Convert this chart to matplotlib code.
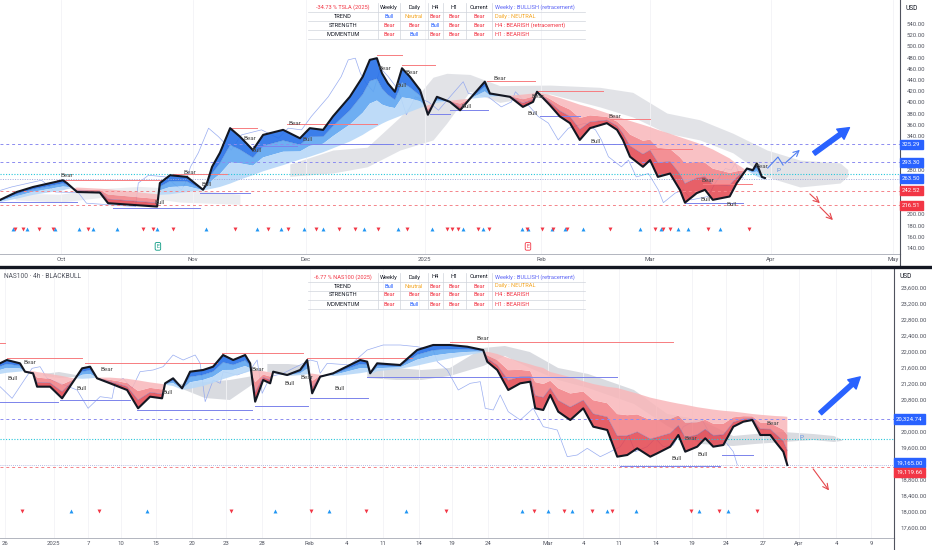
import numpy as np
import matplotlib
matplotlib.use('Agg')
import matplotlib.pyplot as plt
import matplotlib.transforms as mtrans
from matplotlib.lines import Line2D

plt.rcParams['font.family'] = ['Roboto', 'DejaVu Sans']

# ---------------- TSLA (top), x = days from Oct 1 2024 (bar scale) ----------------
tsla_t = [-15.5, -11.3, -7.1, 0.5, 1.5, 4.1, 9.9, 12.0, 24.5, 25.2, 27.8, 32.1, 36.2, 37.2,
          38.5, 40.5, 43.1, 45.6, 48.9, 51.5, 56.6, 60.9, 63.4, 66.8, 69.3, 73.6, 76.9, 78.7,
          80.5, 81.8, 83.3, 85.1, 86.9, 88.9, 91.5, 93.5, 95.8, 99.1, 101.7, 105.0, 108.0,
          109.3, 114.4, 117.7, 120.3, 121.3, 124.6, 127.1, 129.7, 132.2, 134.8, 139.1, 141.7,
          143.2, 145.0, 148.3, 150.1, 152.1, 155.2, 157.7, 159.0, 162.0, 164.1, 166.1, 170.4,
          172.2, 174.8, 176.3, 177.3, 178.6, 179.4]
tsla_close = [226, 240, 249, 261, 256, 240, 239, 220, 214, 256, 270, 267, 244, 256, 285, 310,
              354, 339, 315, 342, 351, 336, 354, 351, 375, 410, 446, 476, 479, 452, 434, 419,
              461, 446, 422, 378, 410, 401, 386, 413, 437, 416, 410, 392, 401, 419, 395, 375,
              363, 333, 354, 363, 351, 333, 303, 285, 297, 267, 273, 244, 221, 238, 244, 226,
              232, 256, 282, 279, 291, 267, 265]
tsla_slow = [222, 228, 235, 243, 245, 248, 246, 245, 236, 235, 236, 240, 243, 244, 246, 249,
             255, 262, 270, 277, 288, 298, 303, 311, 318, 330, 342, 350, 357, 362, 367, 372,
             377, 383, 390, 395, 399, 403, 405, 407, 409, 410, 412, 414, 416, 418, 413, 408,
             402, 396, 391, 381, 375, 371, 367, 360, 356, 351, 344, 338, 335, 328, 322, 316,
             300, 290, 278, 272, 268, 264, 262]

tsla_cloud1_t = [-11.7, -0.3, 9.9, 20.1, 30.3, 45.6]
tsla_cloud1_hi = [238, 236, 246, 250, 246, 236]
tsla_cloud1_lo = [226, 222, 230, 232, 222, 218]
tsla_cloud2_t = [58.3, 69.3, 78.0, 86.4, 94.8, 98.3, 104.2, 111.8, 124.6, 137.3, 145.7,
                 154.4, 162.8, 171.2, 179.9, 188.3, 198.5, 200.5]
tsla_cloud2_hi = [290, 315, 320, 374, 445, 452, 450, 430, 431, 427, 418, 381, 369, 345, 315,
                  297, 292, 280]
tsla_cloud2_lo = [268, 274, 285, 315, 333, 363, 420, 400, 415, 392, 374, 345, 333, 310, 267,
                  249, 256, 268]

tsla_bear_t = [1.5, 32.9, 48.2, 59.6, 82.5, 89.4, 111.8, 121.5, 141.1, 164.8, 178.6]
tsla_bear_p = [270, 274, 336, 363, 461, 454, 442, 410, 374, 260, 285]
tsla_bull_t = [25.2, 37.2, 49.9, 62.9, 86.9, 103.4, 120.3, 136.3, 164.3, 171.0]
tsla_bull_p = [222, 254, 315, 333, 431, 392, 381, 331, 226, 217]
tsla_res = [(-1.0, 26.0, 262), (28.5, 42.3, 273), (43.1, 49.9, 354), (57.6, 80.5, 361),
            (80.5, 86.9, 484), (86.9, 95.3, 466), (108.5, 120.8, 438), (121.3, 138.1, 420),
            (139.9, 150.1, 370), (150.1, 160.8, 317), (163.6, 176.0, 255)]
tsla_sup = [(-15.5, 4.1, 223), (13.2, 35.4, 212), (35.4, 48.2, 238), (48.9, 60.1, 322),
            (60.9, 84.6, 326), (94.0, 99.1, 380), (99.1, 108.8, 386), (122.0, 132.2, 376),
            (132.2, 151.3, 325), (159.0, 173.8, 220)]
tsla_up_sig = [-12.2, -8.7, -1.5, 4.6, 8.2, 14.3, 24.5, 36.9, 49.9, 56.1, 61.9, 66.8, 77.2,
               85.9, 94.5, 102.4, 107.5, 117.5, 119.0, 125.1, 128.4, 133.0, 147.5, 152.9,
               157.2, 159.7, 167.9]
tsla_dn_sig = [-11.7, -9.7, -5.6, -2.0, 6.9, 20.9, 23.4, 28.5, 44.3, 52.7, 57.8, 65.0, 70.8,
               74.9, 80.8, 88.2, 98.3, 99.6, 101.1, 106.2, 109.0, 118.7, 122.5, 125.4, 129.0,
               139.9, 151.4, 153.4, 155.2, 164.8, 175.3]
tsla_levels = [325.29, 293.30, 263.50, 242.52, 216.51]
tsla_level_cols = ['#2962ff', '#2962ff', '#2962ff', '#f23645', '#f23645']
tsla_cyan = 272.5
tsla_ticks_pos = [0, 33.6, 62.4, 92.7, 122.3, 150.1, 180.9, 212.0]
tsla_ticks_lab = ['Oct', 'Nov', 'Dec', '2025', 'Feb', 'Mar', 'Apr', 'May']
tsla_zigzag_t = [180.1, 182.7, 184.0, 188.8]
tsla_zigzag_p = [282.9, 302.5, 288.2, 318.6]

# ---------------- NAS100 (bottom), x = days from Dec 26 2024 (bar scale) ----------------
nas_t = [-0.58, 0.23, 1.82, 2.42, 3.39, 3.87, 5.43, 6.87, 8.07, 9.27, 10.23, 11.07, 12.63,
         14.67, 15.99, 17.43, 18.87, 19.23, 20.19, 21.27, 22.23, 23.79, 24.99, 26.19, 27.40,
         28.84, 29.44, 30.04, 31.00, 31.84, 32.20, 33.88, 35.44, 36.28, 36.88, 37.84, 39.40,
         40.60, 42.64, 43.48, 43.84, 44.68, 47.44, 49.48, 51.40, 53.44, 55.48, 57.40, 57.89,
         59.09, 60.41, 61.85, 63.05, 63.65, 64.61, 65.45, 66.41, 67.85, 69.41, 70.61, 72.29,
         73.49, 74.69, 75.89, 77.45, 78.29, 79.85, 80.82, 81.65, 83.09, 84.05, 85.01, 86.22,
         87.42, 88.62, 89.70, 90.66, 91.86, 92.46, 93.42, 93.90]
nas_close = [21717, 21800, 21717, 21508, 21467, 21133, 21133, 20842, 21217, 21592,
             21633, 21342, 21217, 21050, 20592, 20883, 20842, 21217, 21342, 21092,
             21508, 21550, 21633, 21925, 21800, 21925, 21717, 20758, 21300, 21217,
             21508, 21425, 21550, 21800, 20967, 21383, 21467, 21592, 21800, 21758,
             21467, 21717, 21675, 22050, 22175, 22175, 22133, 22050,
             21758, 21550, 21050, 21217, 21258, 20592, 20550, 20925, 20508, 20300,
             20592, 20133, 20050, 19383, 19425, 19592, 19383, 19467, 19633, 19925,
             19508, 19633, 19842, 19633, 19675, 20133, 20258, 20300, 19925, 19925,
             19758, 19508, 19175]
nas_slow = [21450, 21480, 21510, 21530, 21520, 21500, 21450, 21400, 21350, 21330,
            21340, 21360, 21360, 21330, 21290, 21240, 21200, 21180, 21150, 21060,
            21080, 21150, 21230, 21320, 21400, 21480, 21520, 21540, 21520, 21490,
            21470, 21410, 21420, 21450, 21460, 21430, 21400, 21420, 21470, 21500,
            21440, 21520, 21580, 21660, 21750, 21840, 21920, 21990,
            22010, 21950, 21850, 21760, 21690, 21650, 21600, 21500, 21450, 21370,
            21270, 21200, 21130, 21100, 21030, 20960, 20860, 20820, 20750, 20710,
            20680, 20620, 20590, 20560, 20530, 20510, 20480, 20450, 20430, 20410,
            20400, 20390, 20380]
nan = float('nan')
nas_cloud_t = [4.6, 6.5, 8.7, nan, 21.0, 24.0, 27.0, 29.8, nan, 31.5, 34.0, 36.6, nan,
               43.5, 47.0, 50.0, 53.4, 57.4, 60.0, 63.0, 66.4, 70.0, 75.5, 79.5, 83.5, 87.4,
               90.0, 93.4, 97.0, 99.5, 100.5]
nas_cloud_hi = [21450, 21500, 21420, nan, 21200, 21250, 21300, 21400, nan, 21700, 21700,
                21650, nan, 21550, 21600, 21550, 21600, 22100, 22150, 22000, 21600, 21450,
                21050, 20450, 20300, 19900, 19950, 20000, 19950, 19900, 19800]
nas_cloud_lo = [21400, 21350, 21380, nan, 21100, 20850, 20800, 21200, nan, 21500, 21400,
                21450, nan, 21350, 21300, 21300, 21400, 21650, 21900, 21600, 21300, 21100,
                20700, 20150, 19700, 19650, 19700, 19750, 19800, 19750, 19780]
nas_bear_t = [3.0, 12.3, 30.4, 36.3, 57.4, 82.3, 92.2]
nas_bear_p = [21750, 21575, 21575, 21375, 22350, 19850, 20225]
nas_bull_t = [1.0, 9.2, 19.6, 34.2, 40.2, 80.6, 83.7]
nas_bull_p = [21350, 21100, 20983, 21225, 21100, 19350, 19450]
nas_res = [(-0.58, 0.02, 22225), (0.26, 9.27, 21858), (9.63, 25.47, 21733),
           (26.07, 35.80, 21975), (36.28, 48.88, 21858), (53.44, 80.22, 22258)]
nas_sup = [(-0.58, 6.39, 20750), (6.63, 15.03, 20800), (15.87, 29.68, 20550),
           (30.04, 36.40, 20650), (36.64, 43.60, 20858), (43.48, 73.49, 21375),
           (73.85, 85.86, 19150), (86.10, 89.82, 19425)]
nas_up_sig = [7.9, 17.0, 32.4, 38.9, 48.2, 62.1, 65.2, 68.1, 72.2, 75.8, 83.3, 86.8]
nas_dn_sig = [2.1, 11.3, 27.1, 36.7, 43.4, 53.0, 63.5, 67.1, 70.5, 72.9, 82.3, 85.7, 90.3]
nas_ticks_pos = [0, 5.85, 10.0, 13.95, 18.15, 22.5, 26.55, 30.9, 36.6, 41.0, 45.4, 49.7,
                 53.7, 57.95, 65.2, 69.4, 73.7, 78.1, 82.4, 86.6, 91.0, 95.3, 99.8, 104.0]
nas_ticks_lab = ['26', '2025', '7', '10', '15', '20', '23', '28', 'Feb', '4', '11', '14',
                 '19', '24', 'Mar', '4', '11', '14', '19', '24', '27', 'Apr', '4', '9']
nas_levels = [20324.74, 19165.00, 19119.66]

tsla_table = [['Bull', 'Neutral', 'Bear', 'Bear', 'Bear'],
              ['Bear', 'Bear', 'Bull', 'Bear', 'Bear'],
              ['Bear', 'Bull', 'Bear', 'Bear', 'Bear']]
tsla_status = ['Weekly : BULLISH (retracement)', 'Daily : NEUTRAL',
               'H4 : BEARISH (retracement)', 'H1 : BEARISH']
nas_table = [['Bull', 'Neutral', 'Bear', 'Bear', 'Bear'],
             ['Bear', 'Bear', 'Bear', 'Bear', 'Bear'],
             ['Bear', 'Bull', 'Bear', 'Bear', 'Bear']]
nas_status = ['Weekly : BULLISH (retracement)', 'Daily : NEUTRAL', 'H4 : BEARISH', 'H1 : BEARISH']

W, H = 932, 550
BLUE = '#2962ff'
RED = '#f23645'
ORANGE = '#f5a623'
TXT = '#50535e'


def fx(x):
    return x / W


def fy(y):
    return 1 - y / H


fig = plt.figure(figsize=(W / 100, H / 100), dpi=100)
ax1 = fig.add_axes([0, fy(254), 900 / W, 254 / H])
ax2 = fig.add_axes([0, fy(538), 894 / W, (538 - 269) / H])


def ribbon(ax, t, price, slow):
    t = np.array(t, float)
    price = np.array(price, float)
    slow = np.array(slow, float)
    up = price >= slow
    levels = [price + (slow - price) * k for k in (0, 0.3, 0.62, 1.0)]
    blues = ['#2670e8', '#5ea5f1', '#b7d8f8']
    reds = ['#e3444e', '#f17d83', '#f8b7ba']
    for i in range(3):
        ax.fill_between(t, levels[i], levels[i + 1], where=up, interpolate=True,
                        color=blues[i], alpha=0.9, lw=0, zorder=2)
        ax.fill_between(t, levels[i], levels[i + 1], where=~up, interpolate=True,
                        color=reds[i], alpha=0.85, lw=0, zorder=2)
    ax.plot(t, levels[1], color='#1a4fb8', lw=0.4, alpha=0.4, zorder=3)
    ax.plot(t, price, color='#131722', lw=1.5, zorder=5)


def signals(ax, up, dn):
    tr = ax.get_xaxis_transform()
    ax.scatter(up, [0.1] * len(up), marker='^', s=8, color='#2196f3', transform=tr,
               zorder=6, linewidths=0)
    ax.scatter(dn, [0.1] * len(dn), marker='v', s=8, color=RED, transform=tr,
               zorder=6, linewidths=0)


def labels(ax, bt, bp, ut, up_, res, sup):
    for a, b, p in res:
        ax.plot([a, b], [p, p], color='#f77c80', lw=0.7, zorder=4)
    for a, b, p in sup:
        ax.plot([a, b], [p, p], color='#7b83eb', lw=0.7, zorder=4)
    for t, p in zip(bt, bp):
        ax.text(t, p, 'Bear', fontsize=4.6, color='#4a4a4a', ha='center', va='center', zorder=7)
    for t, p in zip(ut, up_):
        ax.text(t, p, 'Bull', fontsize=4.6, color='#4a4a4a', ha='center', va='center', zorder=7)


def tag(ax, value, text, color, dy=0):
    tr = mtrans.blended_transform_factory(ax.transAxes, ax.transData)
    ax.annotate(text, xy=(1.0, value), xycoords=tr, xytext=(1.5, dy), textcoords='offset points',
                fontsize=4.3, color='white', ha='left', va='center', annotation_clip=False,
                bbox=dict(boxstyle='square,pad=0.35', fc=color, ec=color), zorder=10)


def style(ax, xlim, ylim, yt, fmt, tpos, tlab, tags, tol):
    ax.set_xlim(*xlim)
    ax.set_ylim(*ylim)
    ax.yaxis.tick_right()
    ax.set_yticks(yt)
    # labels hidden behind the price tags are left out
    ax.set_yticklabels(['' if any(abs(v - g) < tol for g in tags) else fmt.format(v) for v in yt])
    ax.set_xticks(tpos)
    ax.set_xticklabels(tlab)
    ax.tick_params(axis='y', length=0, pad=5, labelsize=4.3, labelcolor=TXT)
    ax.tick_params(axis='x', length=0, pad=2.5, labelsize=4.3, labelcolor=TXT)
    ax.grid(axis='x', color='#f3f3f6', lw=0.6, zorder=0)
    for s in ['top', 'left']:
        ax.spines[s].set_visible(False)
    ax.spines['right'].set_color('#50535e')
    ax.spines['right'].set_linewidth(0.8)
    ax.spines['bottom'].set_color('#b2b5be')
    ax.spines['bottom'].set_linewidth(0.7)


# ---- top panel ----
ax = ax1
ax.fill_between(tsla_cloud1_t, tsla_cloud1_lo, tsla_cloud1_hi, color='#dfe1e6', alpha=0.6, lw=0, zorder=1)
ax.fill_between(tsla_cloud2_t, tsla_cloud2_lo, tsla_cloud2_hi, color='#d6d8de', alpha=0.7, lw=0, zorder=1)
ax.plot(np.array(tsla_t) - 5.5, tsla_close, color='#8ea4ef', lw=0.5, alpha=0.9, zorder=2)
ribbon(ax, tsla_t, tsla_close, tsla_slow)
labels(ax, tsla_bear_t, tsla_bear_p, tsla_bull_t, tsla_bull_p, tsla_res, tsla_sup)
signals(ax, tsla_up_sig, tsla_dn_sig)
for v, c in zip(tsla_levels, tsla_level_cols):
    if v == 263.50:
        ax.axhline(v, color='#9fa8da', lw=0.7, ls=(0, (1, 1.5)), zorder=3)
    else:
        ax.axhline(v, color='#8c8cf0' if c == BLUE else '#f4848a', lw=0.7, ls=(0, (3, 3)), zorder=3)
    tag(ax, v, f'{v:.2f}', c)
ax.axhline(tsla_cyan, color='#26c6da', lw=0.8, ls=(0, (1, 1.5)), zorder=3)
ax.plot(tsla_zigzag_t[:-1], tsla_zigzag_p[:-1], color='#4f7df0', lw=0.8, zorder=6)
ax.annotate('', xy=(tsla_zigzag_t[-1], tsla_zigzag_p[-1]),
            xytext=(tsla_zigzag_t[-2], tsla_zigzag_p[-2]),
            arrowprops=dict(arrowstyle='->', color='#4f7df0', lw=0.8))
ax.annotate('', xy=(201.5, 357.9), xytext=(191.3, 306),
            arrowprops=dict(arrowstyle='simple,head_width=1.0,head_length=0.9,tail_width=0.35',
                            color=BLUE, mutation_scale=9))
ax.annotate('', xy=(193.9, 216.8), xytext=(190.3, 240),
            arrowprops=dict(arrowstyle='->', color='#e5484d', lw=0.8))
ax.annotate('', xy=(197.2, 186.4), xytext=(192.9, 216.8),
            arrowprops=dict(arrowstyle='->', color='#e5484d', lw=0.8))
ax.text(182.9, 279, 'P', fontsize=4.6, color='#5b8fe0', ha='center', va='center', zorder=7)
xtr = ax.get_xaxis_transform()
ax.text(24.7, 0.03, 'E', transform=xtr, fontsize=3.8, color='#089981', ha='center', va='center',
        bbox=dict(boxstyle='round,pad=0.25', fc='white', ec='#089981', lw=0.6))
ax.text(119.0, 0.03, 'E', transform=xtr, fontsize=3.8, color=RED, ha='center', va='center',
        bbox=dict(boxstyle='round,pad=0.25', fc='white', ec=RED, lw=0.6))
style(ax, (-15.54, 213.8), (129.3, 582.9), list(range(140, 541, 20)), '{:.2f}',
      tsla_ticks_pos, tsla_ticks_lab, tsla_levels, 12.5)

# ---- bottom panel ----
ax = ax2
ax.fill_between(nas_cloud_t, nas_cloud_lo, nas_cloud_hi, color='#c9ccd4', alpha=0.7, lw=0, zorder=1)
ax.plot(np.array(nas_t) - 6.0, nas_close, color='#8ea4ef', lw=0.5, alpha=0.9, zorder=2)
ribbon(ax, nas_t, nas_close, nas_slow)
labels(ax, nas_bear_t, nas_bear_p, nas_bull_t, nas_bull_p, nas_res, nas_sup)
signals(ax, nas_up_sig, nas_dn_sig)
ax.axhline(nas_levels[0], color='#8c8cf0', lw=0.7, ls=(0, (3, 3)), zorder=3)
ax.axhline(19825, color='#26c6da', lw=0.8, ls=(0, (1, 1.5)), zorder=3)
ax.axhline(nas_levels[1], color='#9fa8da', lw=0.6, ls=(0, (1, 1.5)), zorder=3)
ax.axhline(nas_levels[2], color='#f4848a', lw=0.7, ls=(0, (3, 3)), zorder=3)
tag(ax, nas_levels[0], '20,324.74', BLUE)
tag(ax, nas_levels[1], '19,165.00', BLUE, dy=1.8)
tag(ax, nas_levels[2], '19,119.66', RED, dy=-3.6)
ax.annotate('', xy=(102.9, 21425), xytext=(97.6, 20425),
            arrowprops=dict(arrowstyle='simple,head_width=1.0,head_length=0.9,tail_width=0.35',
                            color=BLUE, mutation_scale=9))
ax.annotate('', xy=(99.1, 18483), xytext=(96.8, 19133),
            arrowprops=dict(arrowstyle='->', color='#e5484d', lw=0.8))
ax.text(95.6, 19875, 'P', fontsize=4.6, color='#5b8fe0', ha='center', va='center', zorder=7)
style(ax, (-0.58, 106.7), (17350, 24075), list(range(17600, 23601, 400)), '{:,.2f}',
      nas_ticks_pos, nas_ticks_lab, nas_levels, 175)

# ---- frame pieces ----
fig.add_artist(Line2D([fx(900), fx(900)], [fy(254), fy(266)], color='#50535e', lw=0.8))
fig.add_artist(Line2D([fx(894), fx(894)], [fy(538), fy(550)], color='#50535e', lw=0.8))
fig.add_artist(Line2D([0, 1], [fy(267), fy(267)], color='#131722', lw=2.4))
fig.text(fx(906), fy(8), 'USD', fontsize=4.8, color='#131722', va='center')
fig.text(fx(900), fy(276), 'USD', fontsize=4.8, color='#131722', va='center')
fig.text(fx(4), fy(276), 'NAS100 · 4h · BLACKBULL', fontsize=4.8, color=TXT, va='center')


def table(y0, title, rows, status):
    row_h = 9.0
    seps = [377.7, 400, 428, 442.7, 466, 491.7]
    centers = [389, 414, 435, 454.5, 479]
    heads = ['Weekly', 'Daily', 'H4', 'H1', 'Current']
    names = ['TREND', 'STRENGTH', 'MOMENTUM']
    cmap = {'Bull': BLUE, 'Neutral': ORANGE, 'Bear': RED}
    fs = 4.1
    top = y0 - row_h / 2
    bot = y0 + 3.5 * row_h
    for s in seps:
        fig.add_artist(Line2D([fx(s), fx(s)], [fy(top), fy(bot)], color='#d1d4dc', lw=0.5))
    for k in range(4):
        yl = y0 + row_h / 2 + k * row_h
        fig.add_artist(Line2D([fx(308), fx(585)], [fy(yl), fy(yl)], color='#d1d4dc', lw=0.5))
    fig.text(fx(343), fy(y0), title, fontsize=fs, color=RED, ha='center', va='center')
    for c, h in zip(centers, heads):
        fig.text(fx(c), fy(y0), h, fontsize=fs, color='#131722', ha='center', va='center')
    for i, (nm, vals) in enumerate(zip(names, rows)):
        yy = y0 + (i + 1) * row_h
        fig.text(fx(343), fy(yy), nm, fontsize=fs, color='#131722', ha='center', va='center')
        for c, v in zip(centers, vals):
            fig.text(fx(c), fy(yy), v, fontsize=fs, color=cmap[v], ha='center', va='center')
    for i, st in enumerate(status):
        col = '#5b63f5' if 'BULLISH' in st else (ORANGE if 'NEUTRAL' in st else RED)
        fig.text(fx(495), fy(y0 + i * row_h), st, fontsize=fs, color=col, ha='left', va='center')


table(7.5, '-34.73 % TSLA (2025)', tsla_table, tsla_status)
table(277, '-6.77 % NAS100 (2025)', nas_table, nas_status)

fig.savefig('out.png', dpi=100, facecolor='white')
